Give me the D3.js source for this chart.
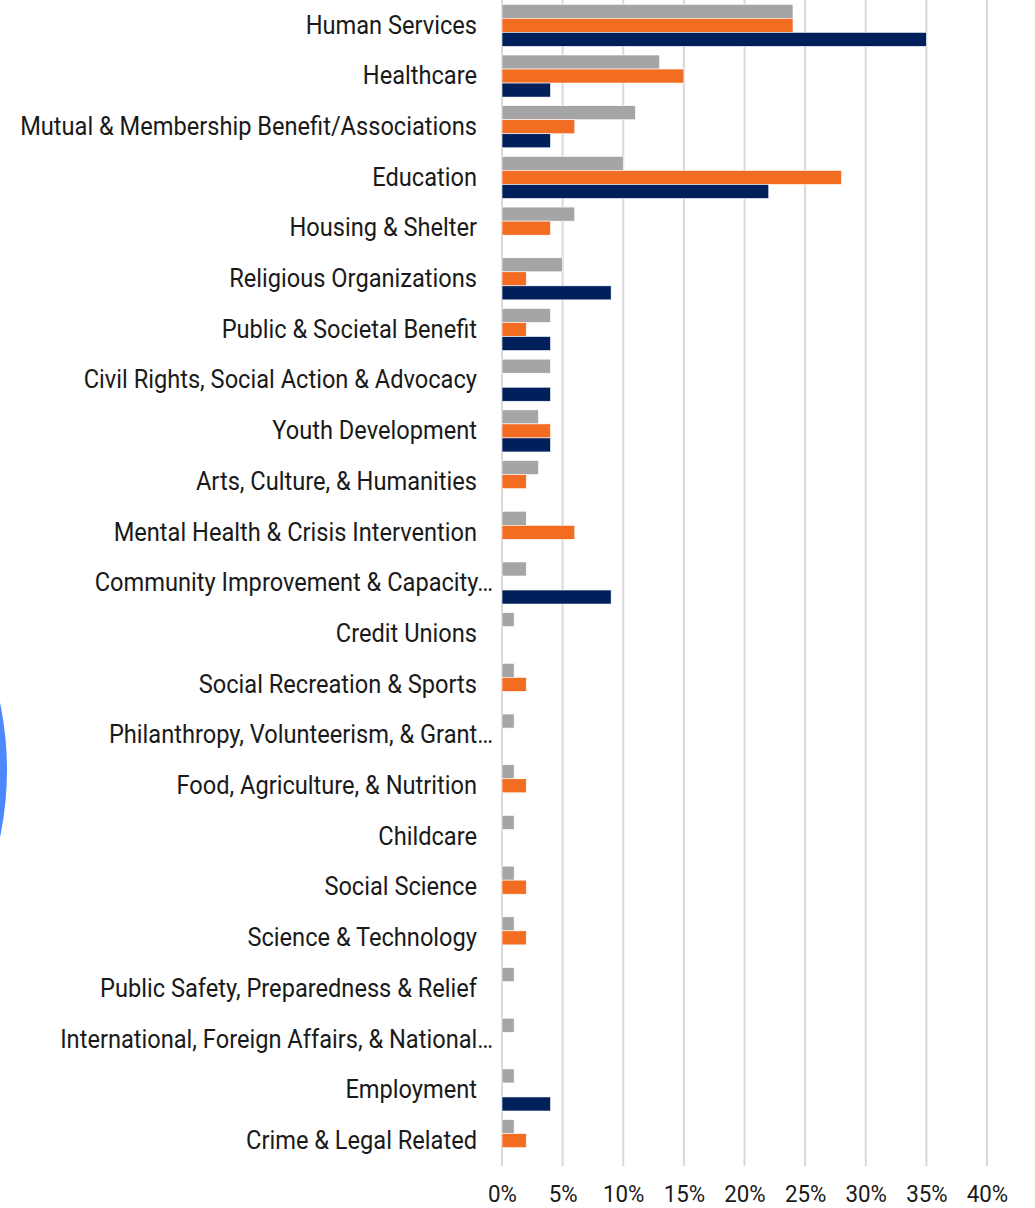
<!DOCTYPE html>
<html>
<head>
<meta charset="utf-8">
<script src="https://cdn.jsdelivr.net/npm/d3@7"></script>
<style>
  html, body { margin: 0; padding: 0; background: #fff; }
  svg { display: block; }
</style>
</head>
<body>
<svg id="chart" width="1035" height="1208"></svg>
<script>
const categories = [
  "Human Services",
  "Healthcare",
  "Mutual & Membership Benefit/Associations",
  "Education",
  "Housing & Shelter",
  "Religious Organizations",
  "Public & Societal Benefit",
  "Civil Rights, Social Action & Advocacy",
  "Youth Development",
  "Arts, Culture, & Humanities",
  "Mental Health & Crisis Intervention",
  "Community Improvement & Capacity…",
  "Credit Unions",
  "Social Recreation & Sports",
  "Philanthropy, Volunteerism, & Grant…",
  "Food, Agriculture, & Nutrition",
  "Childcare",
  "Social Science",
  "Science & Technology",
  "Public Safety, Preparedness & Relief",
  "International, Foreign Affairs, & National…",
  "Employment",
  "Crime & Legal Related"
];
const seriesGray   = [24, 13, 11, 10, 6, 5, 4, 4, 3, 3, 2, 2, 1, 1, 1, 1, 1, 1, 1, 1, 1, 1, 1];
const seriesOrange = [24, 15, 6, 28, 4, 2, 2, 0, 4, 2, 6, 0, 0, 2, 0, 2, 0, 2, 2, 0, 0, 0, 2];
const seriesNavy   = [35, 4, 4, 22, 0, 9, 4, 4, 4, 0, 0, 9, 0, 0, 0, 0, 0, 0, 0, 0, 0, 4, 0];
const seriesNames = ["gray", "orange", "navy"];
const seriesColors = ["#A5A5A5", "#F26C22", "#00205C"];
const xTicks = [0, 5, 10, 15, 20, 25, 30, 35, 40];

const allSeries = [seriesGray, seriesOrange, seriesNavy];
const svg = d3.select("#chart");
const FONT = "Roboto, 'Noto Sans', sans-serif";

// decorative blue shape at left edge
svg.append("circle")
  .attr("cx", -321).attr("cy", 770).attr("r", 328)
  .attr("fill", "#4D88FF");

const x = d3.scaleLinear().domain([0, 40]).range([502, 987]);
const y = d3.scaleBand().domain(categories).range([0, 1166])
  .paddingInner(0.17).paddingOuter(0.085);
const ySub = d3.scaleBand().domain(seriesNames).range([0, y.bandwidth()]);

// gridlines
svg.append("g").selectAll("line").data(xTicks).join("line")
  .attr("x1", d => x(d)).attr("x2", d => x(d))
  .attr("y1", 0).attr("y2", 1166)
  .attr("stroke", "#D9D9D9").attr("stroke-width", 2);

// bars
const groups = svg.append("g").selectAll("g").data(categories).join("g")
  .attr("transform", d => `translate(0,${y(d)})`);
groups.selectAll("rect")
  .data((d, i) => seriesNames.map((s, j) => ({ s, j, v: allSeries[j][i] })).filter(e => e.v > 0))
  .join("rect")
  .attr("x", x(0))
  .attr("y", e => ySub(e.s))
  .attr("width", e => x(e.v) - x(0))
  .attr("height", ySub.bandwidth())
  .attr("fill", e => seriesColors[e.j])
  .attr("stroke", "#fff").attr("stroke-width", 0.6);

// category labels
const yAxis = d3.axisLeft(y).tickSize(0).tickPadding(0);
const gy = svg.append("g").attr("transform", "translate(477,0)").call(yAxis);
gy.select(".domain").remove();
gy.selectAll("text")
  .attr("x", d => d.endsWith("…") ? 17 : 0)
  .attr("dy", "0.33em")
  .attr("font-family", FONT)
  .attr("font-size", 25).attr("fill", "#1a1a1a")
  .attr("transform", "scale(0.945,1)");

// x axis labels
const xAxis = d3.axisBottom(x).tickValues(xTicks).tickFormat(d => d + "%").tickSize(0).tickPadding(0);
const gx = svg.append("g").attr("transform", "translate(0,0)").call(xAxis);
gx.select(".domain").remove();
gx.selectAll("text")
  .attr("y", 1202).attr("dy", 0)
  .attr("font-family", FONT)
  .attr("font-size", 23.5).attr("fill", "#1a1a1a")
  .attr("transform", "scale(0.95,1)");
</script>
</body>
</html>
